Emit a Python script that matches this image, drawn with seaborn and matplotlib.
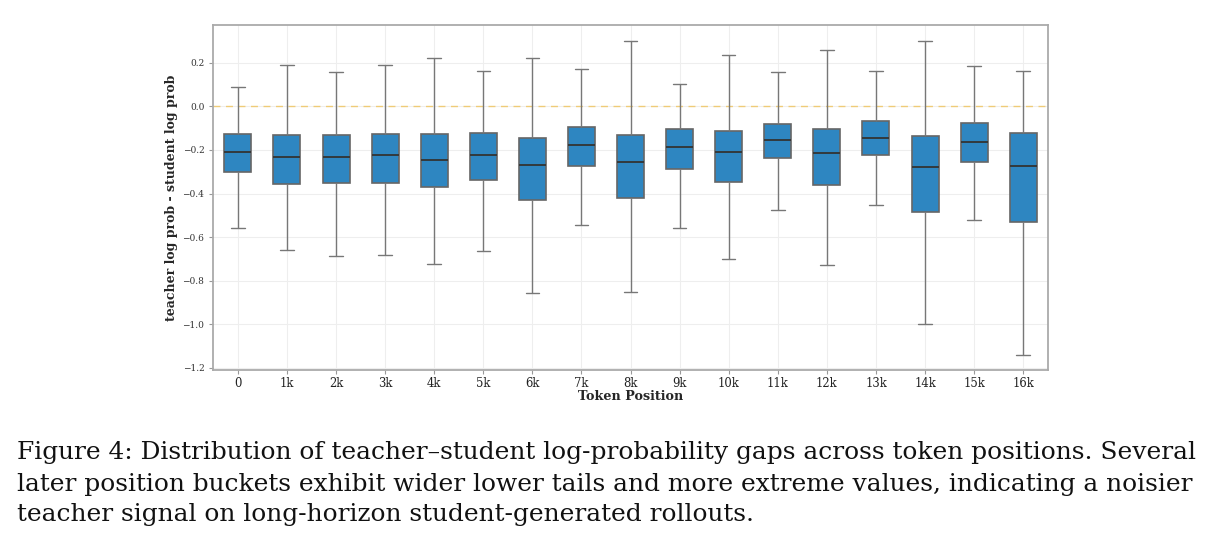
import numpy as np
import pandas as pd
import matplotlib
matplotlib.use('Agg')
import matplotlib.pyplot as plt
import seaborn as sns

positions = ['0', '1k', '2k', '3k', '4k', '5k', '6k', '7k', '8k', '9k',
             '10k', '11k', '12k', '13k', '14k', '15k', '16k']
whisker_low = [-0.559, -0.661, -0.686, -0.681, -0.724, -0.666, -0.856, -0.545, -0.850,
               -0.556, -0.700, -0.476, -0.729, -0.452, -1.000, -0.522, -1.142]
q1 = [-0.303, -0.354, -0.352, -0.352, -0.372, -0.340, -0.432, -0.274, -0.421,
      -0.286, -0.349, -0.239, -0.363, -0.225, -0.487, -0.256, -0.530]
median = [-0.208, -0.230, -0.234, -0.222, -0.248, -0.225, -0.269, -0.179, -0.253,
          -0.188, -0.210, -0.152, -0.216, -0.144, -0.276, -0.162, -0.274]
q3 = [-0.126, -0.133, -0.129, -0.127, -0.127, -0.122, -0.147, -0.093, -0.132,
      -0.104, -0.112, -0.081, -0.106, -0.069, -0.138, -0.078, -0.121]
whisker_high = [0.089, 0.190, 0.159, 0.190, 0.223, 0.161, 0.223, 0.170, 0.302,
                0.101, 0.234, 0.159, 0.260, 0.164, 0.302, 0.187, 0.161]

caption = [
    'Figure 4: Distribution of teacher\u2013student log-probability gaps across token positions. Several',
    'later position buckets exhibit wider lower tails and more extreme values, indicating a noisier',
    'teacher signal on long-horizon student-generated rollouts.',
]

# five points per bucket -> quartiles land exactly on the summary values
rows = []
for i, pos in enumerate(positions):
    for v in (whisker_low[i], q1[i], median[i], q3[i], whisker_high[i]):
        rows.append({'position': pos, 'gap': v})
df = pd.DataFrame(rows)

sns.set_style('whitegrid')
plt.rcParams['font.family'] = 'serif'
plt.rcParams['font.serif'] = ['DejaVu Serif']

fig = plt.figure(figsize=(12.19, 5.52), dpi=100)
ax = fig.add_axes([0.175, 0.329, 0.6845, 0.6266])

sns.boxplot(data=df, x='position', y='gap', order=positions, whis=(0, 100),
            width=0.55, color='#2E86C1', saturation=1, ax=ax,
            boxprops=dict(edgecolor='#666666', linewidth=1.2),
            whiskerprops=dict(color='#777777', linewidth=1.0),
            capprops=dict(color='#777777', linewidth=1.0),
            medianprops=dict(color='#333333', linewidth=1.3),
            showfliers=False)

ax.axhline(0, color='#F0C050', linestyle='--', linewidth=1.0, alpha=0.75,
           dashes=(5, 4), zorder=1)

yt = np.round(np.arange(-1.2, 0.21, 0.2), 1)
ax.set_ylim(-1.212, 0.376)
ax.set_yticks(yt)
ax.set_yticklabels([f'{t:.1f}'.replace('-', '\u2212') if t != 0 else '0.0' for t in yt])
ax.grid(True, color='#eeeeee', linewidth=0.8)
ax.set_axisbelow(True)
for s in ax.spines.values():
    s.set_color('#aaaaaa')
    s.set_linewidth(1.3)
ax.tick_params(axis='y', labelsize=6.5, colors='#333333', length=3, left=True, width=0.8)
ax.tick_params(axis='x', labelsize=8.4, colors='#222222', length=3, bottom=True, width=0.8, pad=2)
ax.tick_params(axis='both', color='#999999')

ax.set_xlabel('Token Position', fontsize=9.2, fontweight='bold', labelpad=0)
ax.set_ylabel('teacher log prob - student log prob', fontsize=9.0, fontweight='bold', labelpad=3)

for k, line in enumerate(caption):
    fig.text(17 / 1219, 1 - (453 + 31 * k) / 552, line, fontsize=17.9,
             family='DejaVu Serif', va='center', ha='left', color='#111111')

fig.savefig('out.png', dpi=100)
